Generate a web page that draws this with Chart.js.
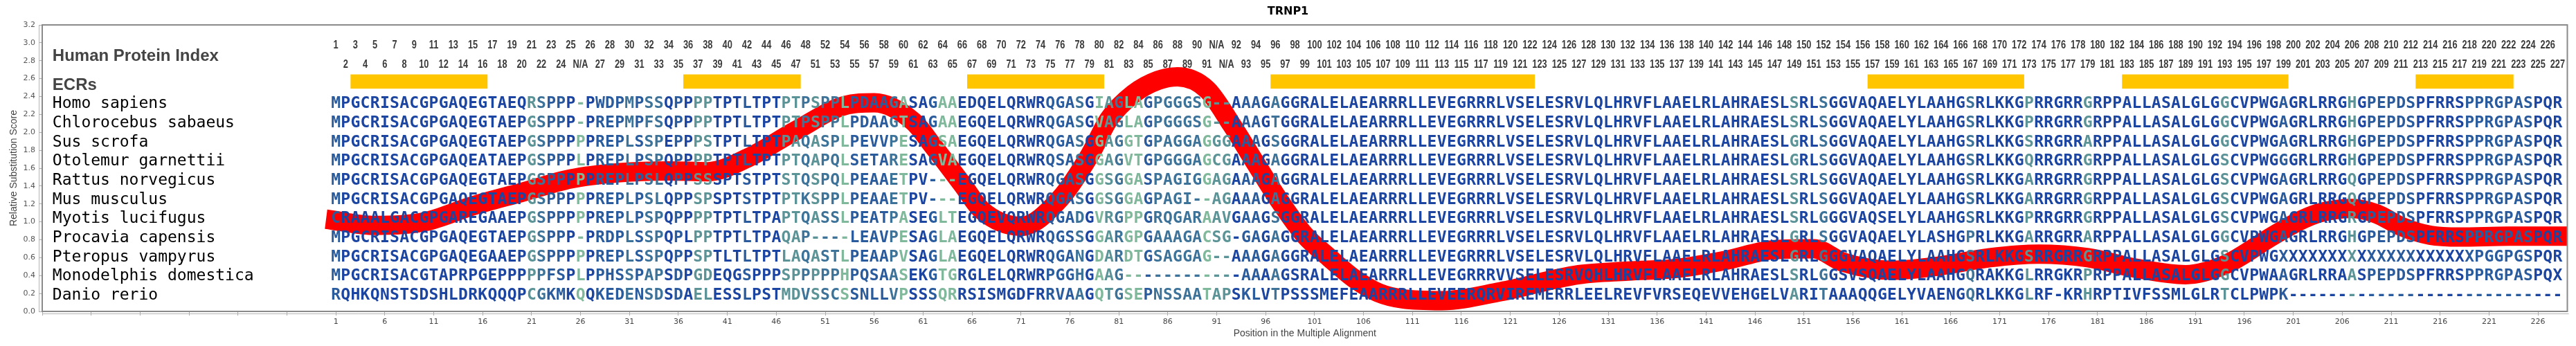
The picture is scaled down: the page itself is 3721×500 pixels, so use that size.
<!DOCTYPE html>
<html>
<head>
<meta charset="utf-8">
<title>TRNP1</title>
<script src="https://cdn.jsdelivr.net/npm/chart.js@4.4.1/dist/chart.umd.min.js"></script>
<style>
  html, body { margin: 0; padding: 0; background: #fff; }
  canvas { display: block; }
</style>
</head>
<body>
<canvas id="chart" width="3721" height="500"></canvas>
<script>
// species in the alignment, top to bottom
const species = [
  'Homo sapiens', 'Chlorocebus sabaeus', 'Sus scrofa', 'Otolemur garnettii',
  'Rattus norvegicus', 'Mus musculus', 'Myotis lucifugus', 'Procavia capensis',
  'Pteropus vampyrus', 'Monodelphis domestica', 'Danio rerio'
];

// aligned sequences, positions 1..228 (written in pieces of ~38 columns)
const sequences = [
  ['MPGCRISACGPGAQEGTAEQRSPPP-PWDPMPSSQPPPP', 'TPTLTPTPTPSPPLPDAAGASAGAAEDQELQRWRQGAS', 'GIAGLAGPGGGSG--AAAGAGGRALELAEARRRLLEV',
   'EGRRRLVSELESRVLQLHRVFLAAELRLAHRAESLSRL', 'SGGVAQAELYLAAHGSRLKKGPRRGRRGRPPALLASAL', 'GLGGCVPWGAGRLRRGHGPEPDSPFRRSPPRGPASPQR'],
  ['MPGCRISACGPGAQEGTAEPGSPPP-PREPMPFSQPPPP', 'TPTLTPTPTPSPPLPDAAGTSAGAAEGQELQRWRQGAS', 'GVAGLAGPGGGSG--AAAGTGGRALELAEARRRLLEV',
   'EGRRRLVSELESRVLQLHRVFLAAELRLAHRAESLSRL', 'SGGVAQAELYLAAHGSRLKKGPRRGRRGRPPALLASAL', 'GLGGCVPWGAGRLRRGHGPEPDSPFRRSPPRGPASPQR'],
  ['MPGCRISACGPGAQEGTAEPGSPPPPPREPLSSPEPPPS', 'TPTLTPTPAQASPLPEVVPESAGSAEGQELQRWRQGAS', 'GGAGGTGPAGGAGGGAAAGSGGRALELAEARRRLLEV',
   'EGRRRLVSELESRVLQLHRVFLAAELRLAHRAESLGRL', 'SGGVAQAELYLAAHGSRLKKGSRRGRRARPPALLASAL', 'GLGGCVPWGAGRLRRGHGPEPDSPFRRSPPRGPASPQR'],
  ['MPGCRISACGPGAQEATAEPGSPPPLPREPLPSPQPPPP', 'TPTLTPTPTQAPQLSETARESAGVAEGQELQRWRQSAS', 'GGAGVTGPGGGAGCGAAAGAGGRALELAEARRRLLEV',
   'EGRRRLVSELESRVLQLHRVFLAAELRLAHRAESLGRL', 'SGGVAQAELYLAAHGSRLKKGQRRGRRGRPPALLASAL', 'GLGSCVPWGGGRLRRGHGPEPDSPFRRSPPRGPASPQR'],
  ['MPGCRISACGPGAQEGTAEPGSPPPPPREPLPSLQPPSS', 'SPTSTPTSTQSPQLPEAAETPV---EGQELQRWRQGAS', 'GGSGGASPAGIGGAGAAAGAGGRALELAEARRRLLEV',
   'EGRRRLVSELESRVLQLHRVFLAAELRLAHRAESLSRL', 'SGGVAQAELYLAAHGSRLKKGARRGRRGRPPALLASAL', 'GLGSCVPWGAGRLRRGQGPEPDSPFRRSPPRGPASPQR'],
  ['MPGCRISACGPGAQEGTAEPGSPPPPPREPLPSLQPPSP', 'SPTSTPTPTKSPPLPEAAETPV---EGQELQRWRQGAS', 'GGSGGAGPAGI--AGAAAGAGGRALELAEARRRLLEV',
   'EGRRRLVSELESRVLQLHRVFLAAELRLAHRAESLSRL', 'SGGVAQAELYLAAHGSRLKKGARRGRRGRPPALLASAL', 'GLGSCVPWGAGRLRRGQGPEPDSPFRRSPPRGPASPQR'],
  ['CRAAALGACGPGAREGAAEPGSPPPPPREPLPSPQPPPP', 'TPTLTPAPTQASSLPEATPASEGLTEGQEVQRWRQGAD', 'GVRGPPGRQGARAAVGAAGSGGRALELAEARRRLLEV',
   'EGRRRLVSELESRVLQLHRVFLAAELRLAHRAESLSRL', 'GGGVAQSELYLAAHGSRLKKGPRRGRRGRPPALLASAL', 'GLGSCVPWGAGRLRRGRGPEPDSPFRRSPPRGPASPQR'],
  ['MPGCRISACGPGAQEGTAEPGSPPP-PRDPLSSPQPLPP', 'TPTLTPAQAP----LEAVPESAGLAEGQELQRWRQGSS', 'GGARGPGAAAGACSG-GAGAGGRALELAEARRRLLEV',
   'EGRRRLVSELESRVLQLHRVFLAAELRLAHRAESLGRL', 'SGGVAQAELYLASHGPRLKKGARRGRRARPPALLASAL', 'GLGGCVPWGAGRLRRGHGPEPDSPFRRSPPRGPASPQR'],
  ['MPGCRISACGPGAQEGAAEPGSPPPPPREPLSSPQPPSP', 'TLTLTPTLAQASTLPEAAPVSAGLAEGQELQRWRQGAN', 'GDARDTGSAGGAG--AAAGAGGRALELAEARRRLLEV',
   'EGRRRLVSELESRVLQLHRVFLAAELRLAHRAESLGRL', 'GGGVAQAELYLAAHGSRLKKGSRRGRRGRPPALLASAL', 'GLGSCVPWG' + 'XXXXXXXXXX' + 'XXXXXXXXXX' + 'PGGPGSPQR'],
  ['MPGCRISACGTAPRPGEPPPPPFSPLPPHSSPAPSDPGD', 'EQGSPPPSPPPPPHPQSAASEKGTGRGLELQRWRPGGH', 'GAAG' + '------' + '------' + 'AAAAGSRALELAEARRRLLEV',
   'EGRRRVVSELESRVQHLHRVFLAAELRLAHRAESLSRL', 'GGSVSQAELYLAAHGQRAKKGLRRGKRPRPPALLASAL', 'GLGGCVPWAAGRLRRAASPEPDSPFRRSPPRGPASPQX'],
  ['RQHKQNSTSDSHLDRKQQQPCGKMKQQKEDENSDSDAEL', 'ESSLPSTMDVSSCSSNLLVPSSSQRRSISMGDFRRVAA', 'GQTGSEPNSSAATAPSKLVTPSSSMEFEAARRRLLEV',
   'EERQRVIREMERRLEELREVFVRSEQEVVEHGELVARI', 'TAAAQQGELYVAENGQRLKKGLRF-KRHRPTIVFSSML', 'GLRTCLPWPK' + '----------' + '----------' + '--------']
].map(parts => parts.join(''));

// colour level of each alignment column (0 = dark blue ... 4 = pale green)
const columnShade = [
  '1000000000', '0000000000', '3211040111', '2122010330', '0010003323',
  '2241111240', '0144000000', '0001112043', '2441222224', '3301102000',
  '0000000000', '0000000000', '0000000000', '0000000000', '0000000003',
  '0020000000', '0000000200', '0003000003', '0000000000', '0003000001',
  '0000003011', '1110000011', '11111000'
].join('');
const shadeColors = ['#1b45a0', '#2a5b9d', '#3e7399', '#5b9396', '#80b89b'];

// human protein index above each column: [first column, last column, first index] (null = N/A)
const indexRuns = [
  [1, 25, 1], [26, 26, null], [27, 49, 26], [50, 90, 51], [91, 92, null], [93, 228, 92]
];

// evolutionarily conserved regions (column ranges)
const ecrStart = [2.5, 36.5, 65.5, 96.5, 157.5, 183.5, 213.5];
const ecrEnd = [16.5, 48.5, 79.5, 123.5, 173.5, 200.5, 223.5];

// relative substitution score curve
const curvePos = [0, 5, 10, 15, 20, 25, 30, 35, 39, 43, 48, 53, 56, 60, 62, 65, 67, 71, 75, 78,
  80, 82.5, 85, 87, 90, 92.5, 95, 97.5, 100, 102.5, 105, 107.5, 110, 114, 120, 128, 133, 138,
  143, 148, 152, 155, 160, 165, 170, 175, 180, 185, 190, 194, 199, 202, 204, 207, 209.5, 212,
  215, 218, 223, 229];
const curveScore = [1.03, 0.96, 1.0, 1.18, 1.33, 1.48, 1.55, 1.57, 1.56, 1.71, 2.02, 2.3, 2.33,
  2.12, 1.85, 1.42, 1.13, 0.95, 1.26, 1.74, 2.15, 2.43, 2.58, 2.62, 2.48, 2.09, 1.65, 1.22, 0.85,
  0.6, 0.37, 0.21, 0.14, 0.12, 0.22, 0.41, 0.45, 0.48, 0.57, 0.69, 0.7, 0.55, 0.46, 0.51, 0.6,
  0.64, 0.6, 0.48, 0.41, 0.52, 0.85, 1.03, 1.11, 1.15, 1.09, 0.95, 0.85, 0.83, 0.84, 0.84];

const xTicks = [];
for (let v = -29; v <= 226; v += 5) xTicks.push(v);

const humanIndex = [];
indexRuns.forEach(([from, to, first]) => {
  for (let p = from; p <= to; p++) humanIndex.push(first === null ? 'N/A' : String(first + p - from));
});

const alignmentLayer = {
  id: 'alignmentLayer',
  beforeDraw(chart) {
    const ctx = chart.ctx;
    ctx.save();
    ctx.fillStyle = '#fff';
    ctx.fillRect(0, 0, chart.width, chart.height);
    ctx.restore();
  },
  afterDatasetsDraw(chart) {
    const { ctx, chartArea: area, scales: { x, y } } = chart;
    ctx.save();

    // ECR bars
    ctx.fillStyle = '#ffc600';
    const barTop = y.getPixelForValue(2.647), barBottom = y.getPixelForValue(2.488);
    ecrStart.forEach((s, i) => {
      const x0 = x.getPixelForValue(s), x1 = x.getPixelForValue(ecrEnd[i]);
      ctx.fillRect(x0, barTop, x1 - x0, barBottom - barTop);
    });

    // headings
    const left = x.getPixelForValue(-27.95);
    ctx.fillStyle = '#444';
    ctx.textAlign = 'left';
    ctx.textBaseline = 'alphabetic';
    ctx.font = 'bold 24px "Liberation Sans", Arial, sans-serif';
    ctx.fillText('Human Protein Index', left, y.getPixelForValue(2.86) + 8.5);
    ctx.fillText('ECRs', left, y.getPixelForValue(2.536) + 8.5);

    // human index labels, odd columns on the upper line
    ctx.fillStyle = '#3a3a3a';
    ctx.textAlign = 'center';
    ctx.font = 'bold 16px "Liberation Sans", Arial, sans-serif';
    humanIndex.forEach((label, i) => {
      const pos = i + 1;
      const py = y.getPixelForValue(pos % 2 === 1 ? 2.982 : 2.762) + 5.7;
      ctx.save();
      ctx.translate(x.getPixelForValue(pos), py);
      ctx.scale(0.8, 1);
      ctx.fillText(label, 0, 0);
      ctx.restore();
    });

    // species names and aligned residues
    species.forEach((name, r) => {
      const py = y.getPixelForValue(2.334 - r * 0.2137) + 8.4;
      ctx.textAlign = 'left';
      ctx.fillStyle = '#000';
      ctx.font = '23px "DejaVu Sans Mono", monospace';
      ctx.fillText(name, left, py);
      ctx.textAlign = 'center';
      ctx.font = 'bold 23px "DejaVu Sans Mono", monospace';
      const seq = sequences[r];
      for (let i = 0; i < seq.length; i++) {
        ctx.fillStyle = shadeColors[+columnShade[i] || 0];
        ctx.fillText(seq[i], x.getPixelForValue(i + 1), py);
      }
    });

    // plot frame and offset axis lines
    ctx.strokeStyle = '#8a8a8a';
    ctx.lineWidth = 2;
    ctx.strokeRect(area.left, area.top, area.right - area.left, area.bottom - area.top);
    ctx.strokeStyle = '#b5b5b5';
    ctx.lineWidth = 1;
    ctx.beginPath();
    ctx.moveTo(area.left, area.bottom + 3.5);
    ctx.lineTo(area.right + 2, area.bottom + 3.5);
    ctx.moveTo(area.left - 4.5, area.top);
    ctx.lineTo(area.left - 4.5, area.bottom);
    ctx.stroke();

    // title
    ctx.fillStyle = '#000';
    ctx.textAlign = 'center';
    ctx.font = 'bold 16px "DejaVu Sans", sans-serif';
    ctx.fillText('TRNP1', chart.width / 2, 21);
    ctx.restore();
  }
};

new Chart(document.getElementById('chart'), {
  type: 'line',
  data: {
    datasets: [{
      data: curvePos.map((p, i) => ({ x: p, y: curveScore[i] })),
      borderColor: '#ff0000',
      borderWidth: 28,
      borderCapStyle: 'butt',
      borderJoinStyle: 'round',
      pointRadius: 0,
      cubicInterpolationMode: 'monotone',
      fill: false
    }]
  },
  options: {
    responsive: false,
    animation: false,
    devicePixelRatio: 1,
    layout: { padding: { top: 36, right: 12.5, left: 0, bottom: 0 } },
    plugins: {
      legend: { display: false },
      tooltip: { enabled: false },
      title: { display: false }
    },
    scales: {
      x: {
        type: 'linear',
        min: -29,
        max: 229,
        afterBuildTicks: s => { s.ticks = xTicks.map(v => ({ value: v })); },
        afterFit: s => { s.height = 50; },
        ticks: {
          autoSkip: false,
          maxRotation: 0,
          padding: 3,
          color: '#444',
          font: { family: '"DejaVu Sans", sans-serif', size: 11 },
          callback: v => (v >= 1 ? String(v) : '')
        },
        grid: { drawOnChartArea: false, drawTicks: true, tickLength: 6, color: '#aaa' },
        border: { display: false },
        title: {
          display: true,
          text: 'Position in the Multiple Alignment',
          color: '#444',
          font: { family: '"Liberation Sans", Arial, sans-serif', size: 14 },
          padding: { top: 0, bottom: 9 }
        }
      },
      y: {
        min: 0,
        max: 3.2,
        afterFit: s => { s.width = 61; },
        ticks: {
          stepSize: 0.2,
          padding: 5,
          color: '#555',
          font: { family: '"DejaVu Sans", sans-serif', size: 11 },
          callback: v => Number(v).toFixed(1)
        },
        grid: { drawOnChartArea: false, drawTicks: true, tickLength: 5, color: '#aaa' },
        border: { display: false },
        title: {
          display: true,
          text: 'Relative Substitution Score',
          color: '#444',
          font: { family: '"Liberation Sans", Arial, sans-serif', size: 14 },
          padding: { top: 11.5, bottom: 0 }
        }
      }
    }
  },
  plugins: [alignmentLayer]
});
</script>
</body>
</html>
